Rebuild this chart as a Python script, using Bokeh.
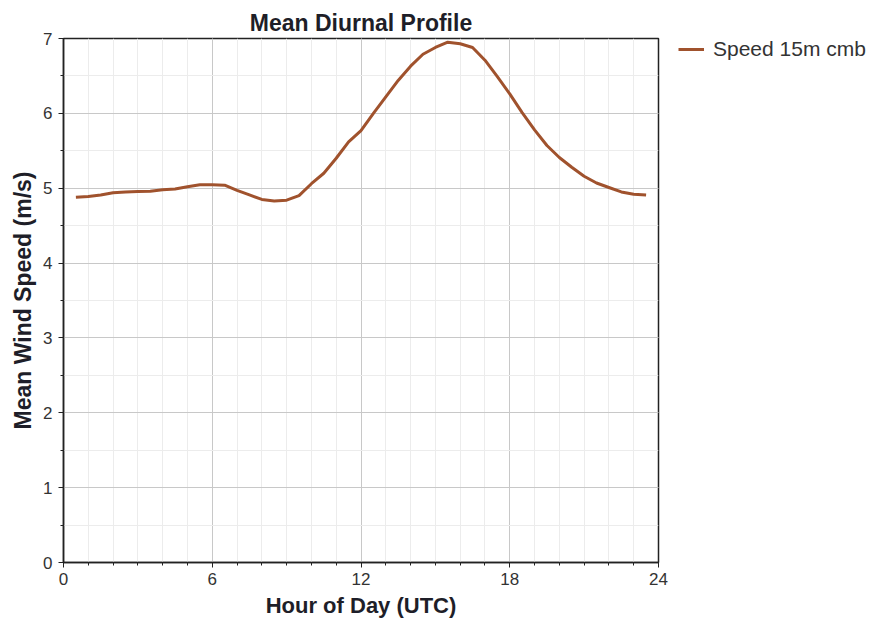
from bokeh.plotting import figure
from bokeh.models import Range1d, FixedTicker, Legend, LegendItem
from bokeh.embed import file_html
from bokeh.resources import INLINE

hours = [0.5, 1.0, 1.5, 2.0, 2.5, 3.0, 3.5, 4.0, 4.5, 5.0, 5.5, 6.0, 6.5, 7.0, 7.5, 8.0,
         8.5, 9.0, 9.5, 10.0, 10.5, 11.0, 11.5, 12.0, 12.5, 13.0, 13.5, 14.0, 14.5, 15.0,
         15.5, 16.0, 16.5, 17.0, 17.5, 18.0, 18.5, 19.0, 19.5, 20.0, 20.5, 21.0, 21.5,
         22.0, 22.5, 23.0, 23.5]
speed = [4.88, 4.89, 4.91, 4.94, 4.95, 4.955, 4.96, 4.98, 4.99, 5.02, 5.045, 5.045, 5.04,
         4.97, 4.91, 4.85, 4.83, 4.84, 4.90, 5.06, 5.20, 5.40, 5.62, 5.77, 6.00, 6.22,
         6.44, 6.63, 6.79, 6.88, 6.95, 6.93, 6.88, 6.71, 6.49, 6.26, 6.01, 5.78, 5.57,
         5.41, 5.28, 5.16, 5.07, 5.01, 4.95, 4.92, 4.91]
x_ticks = [0, 6, 12, 18, 24]
y_ticks = [0, 1, 2, 3, 4, 5, 6, 7]
series_name = "Speed 15m cmb"

FONT = "Liberation Sans"

p = figure(frame_width=595, frame_height=524, output_backend="svg", toolbar_location=None,
           x_range=Range1d(0, 24), y_range=Range1d(0, 7),
           min_border_left=63, min_border_right=5, min_border_top=38, min_border_bottom=55,
           title="Mean Diurnal Profile")
p.title.align = "center"
p.title.text_font = FONT
p.title.text_font_size = "23px"
p.title.text_font_style = "bold"
p.title.text_color = "#1e1e28"
p.title.standoff = 6
p.title.offset = 0

p.outline_line_color = "#222222"
p.outline_line_width = 1.5

line = p.line(hours, speed, line_color="#a0522d", line_width=3)

for ax in (p.xaxis, p.yaxis):
    ax.axis_line_color = "#222222"
    ax.axis_line_width = 1.5
    ax.major_tick_line_color = "#222222"
    ax.minor_tick_line_color = "#222222"
    ax.major_tick_out = 5
    ax.major_tick_in = 0
    ax.minor_tick_out = 3
    ax.minor_tick_in = 0
    ax.major_label_text_font = FONT
    ax.major_label_text_font_size = "17px"
    ax.major_label_text_color = "#333333"
    ax.axis_label_text_font = FONT
    ax.axis_label_text_font_style = "bold"
    ax.axis_label_text_color = "#1e1e28"

p.xaxis.axis_label_text_font_size = "22px"
p.yaxis.axis_label_text_font_size = "23px"
p.xaxis.ticker = FixedTicker(ticks=x_ticks, minor_ticks=list(range(0, 25)))
p.yaxis.ticker = FixedTicker(ticks=y_ticks, minor_ticks=[i * 0.5 for i in range(15)])
p.xaxis.axis_label = "Hour of Day (UTC)"
p.yaxis.axis_label = "Mean Wind Speed (m/s)"
p.xaxis.major_label_standoff = 5
p.yaxis.major_label_standoff = 6
p.xaxis.axis_label_standoff = 5
p.yaxis.axis_label_standoff = 4

p.xgrid.grid_line_color = "#c8c8c8"
p.ygrid.grid_line_color = "#c8c8c8"
p.xgrid.minor_grid_line_color = "#ececec"
p.ygrid.minor_grid_line_color = "#ececec"

legend = Legend(items=[LegendItem(label=series_name, renderers=[line])],
                location=(20, 501))
legend.border_line_color = None
legend.background_fill_alpha = 0
legend.label_text_font = FONT
legend.label_text_font_size = "21px"
legend.label_text_color = "#333333"
legend.glyph_width = 26
legend.margin = 0
legend.padding = 2
legend.spacing = 0
legend.label_standoff = 9
p.add_layout(legend, "right")

open("out.html", "w").write(file_html(p, INLINE))
